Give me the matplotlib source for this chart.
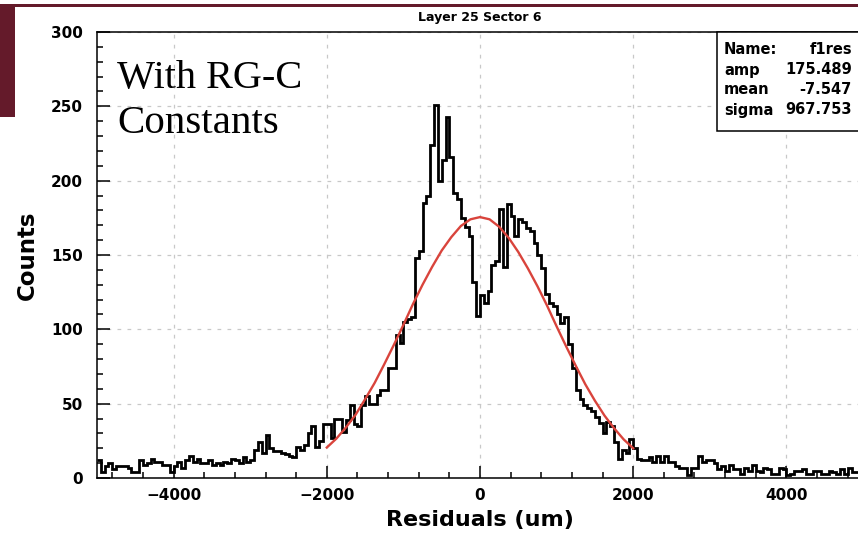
import numpy as np
import matplotlib
matplotlib.use("Agg")
import matplotlib.pyplot as plt
from matplotlib.patches import Rectangle

# histogram: 200 bins of 50 um from -5000 to 5000
bin_lo = -5000
bin_hi = 5000
counts = [
    # -5000 .. -4000
    12, 4, 8, 10, 6, 8, 8, 8, 7, 4, 4, 12, 9, 10, 13, 11, 11, 9, 9, 4,
    # -4000 .. -3000
    8, 11, 7, 12, 15, 11, 13, 10, 10, 12, 9, 10, 9, 11, 10, 13, 12, 10, 14, 11,
    # -3000 .. -2000
    12, 19, 24, 17, 29, 20, 18, 18, 17, 16, 15, 14, 21, 19, 22, 30, 35, 21, 25, 36,
    # -2000 .. -1000
    36, 27, 40, 40, 31, 39, 49, 36, 35, 49, 55, 50, 50, 56, 59, 59, 74, 74, 96, 91,
    # -1000 .. 0
    105, 107, 108, 148, 153, 185, 190, 224, 251, 200,
    214, 243, 216, 192, 188, 175, 169, 163, 132, 109,
    # 0 .. 1000
    123, 118, 126, 143, 146, 181, 142, 184, 176, 163,
    174, 172, 168, 166, 158, 150, 141, 124, 118, 116,
    # 1000 .. 2000
    110, 104, 108, 90, 74, 59, 53, 49, 47, 45, 41, 37, 30, 38, 35, 24, 13, 19, 17, 26,
    # 2000 .. 3000
    20, 13, 12, 12, 14, 11, 15, 11, 15, 11, 11, 8, 7, 7, 2, 7, 7, 15, 11, 12,
    # 3000 .. 4000
    12, 10, 6, 8, 5, 9, 6, 6, 3, 7, 5, 9, 5, 4, 7, 6, 3, 3, 7, 6,
    # 4000 .. 5000
    2, 3, 5, 5, 6, 3, 3, 5, 5, 3, 3, 5, 4, 3, 6, 3, 7, 4, 4, 4,
]

# gaussian fit curve
fit_x = [-2000, -1875, -1750, -1625, -1500, -1375, -1250, -1125, -1000, -875, -750,
         -625, -500, -375, -250, -125, 0, 125, 250, 375, 500, 625, 750, 875, 1000,
         1125, 1250, 1375, 1500, 1625, 1750, 1875, 2000]
fit_y = [20.5, 26.5, 34, 42.5, 53, 64, 76.5, 89.5, 103, 117, 130, 142, 153, 162,
         169.5, 174, 175.5, 174, 169, 161.5, 152, 141, 129, 116, 102, 88.5, 75.5,
         63, 52, 42, 33.5, 26, 20]

stats_names = ["Name:", "amp", "mean", "sigma"]
stats_values = ["f1res", "175.489", "-7.547", "967.753"]

maroon = "#641a2a"
W, H = 858, 542

fig = plt.figure(figsize=(W / 100, H / 100), dpi=100)
ax = fig.add_axes([97 / W, 1 - 478 / H, 766 / W, 446 / H])

edges = np.linspace(bin_lo, bin_hi, len(counts) + 1)
ax.stairs(counts, edges, baseline=None, color="black", lw=2.0, zorder=3)
ax.plot(fit_x, fit_y, color="#d9443c", lw=1.7, zorder=4)

ax.set_xlim(-5000, 5000)
ax.set_ylim(0, 300)
ax.set_xticks([-4000, -2000, 0, 2000, 4000])
ax.set_xticks(np.arange(-4800, 5000, 400), minor=True)
ax.set_yticks(np.arange(0, 301, 50))
ax.set_yticks(np.arange(0, 301, 10), minor=True)
ax.tick_params(which="both", direction="in", width=1.1)
ax.tick_params(which="major", length=9)
ax.tick_params(which="minor", length=4.5)
ax.tick_params(axis="x", pad=7, labelsize=11)
ax.tick_params(axis="y", pad=10, labelsize=11)
for lab in ax.get_xticklabels() + ax.get_yticklabels():
    lab.set_fontweight("bold")

ax.grid(True, which="major", color="#c8c8c8", ls=(0, (3, 5)), lw=0.9)
ax.set_axisbelow(True)
for s in ax.spines.values():
    s.set_linewidth(1.1)

ax.set_xlabel("Residuals (um)", fontsize=16, fontweight="bold", labelpad=5)
ax.set_ylabel("Counts", fontsize=16.5, fontweight="bold", labelpad=9)
fig.text(480 / W, 1 - 17 / H, "Layer 25 Sector 6", ha="center", va="center",
         fontsize=9, fontweight="bold")

# stats box
fig.patches.append(Rectangle((717 / W, 1 - 131 / H), 150 / W, 99 / H,
                             transform=fig.transFigure, facecolor="white",
                             edgecolor="black", lw=1.1, zorder=5))
for i, (n, v) in enumerate(zip(stats_names, stats_values)):
    yy = 1 - (50 + 20 * i) / H
    fig.text(724 / W, yy, n, ha="left", va="center", fontsize=10.5,
             fontweight="bold", zorder=6)
    fig.text(852 / W, yy, v, ha="right", va="center", fontsize=10.5,
             fontweight="bold", zorder=6)

# slide decoration
fig.patches.append(Rectangle((0, 1 - 7 / H), 1, 3 / H, transform=fig.transFigure,
                             facecolor=maroon, edgecolor="none"))
fig.patches.append(Rectangle((0, 1 - 117 / H), 15.5 / W, 113 / H,
                             transform=fig.transFigure, facecolor=maroon,
                             edgecolor="none"))

fig.text(117 / W, 1 - 88 / H, "With RG-C", family="Liberation Serif",
         fontsize=29, va="baseline", ha="left")
fig.text(117 / W, 1 - 133 / H, "Constants", family="Liberation Serif",
         fontsize=29.5, va="baseline", ha="left")

fig.savefig("out.png", dpi=100)
